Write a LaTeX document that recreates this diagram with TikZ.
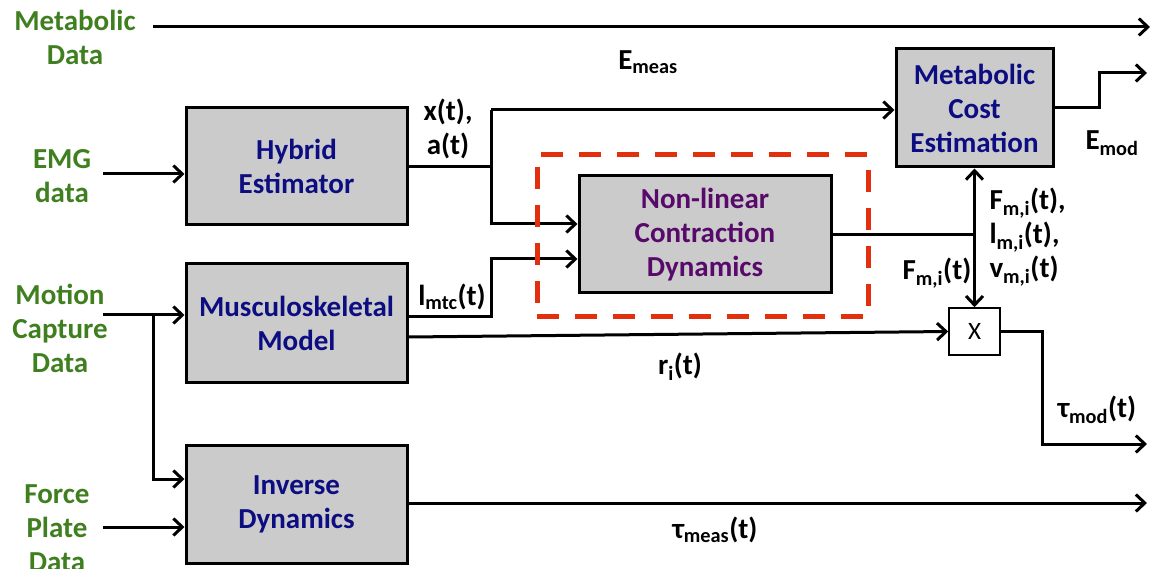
\documentclass[tikz,border=0pt]{standalone}
\usepackage{fontspec}
\setmainfont{Carlito}
\usetikzlibrary{arrows.meta,positioning}

\definecolor{lblgreen}{HTML}{3F7F1F}
\definecolor{boxblue}{HTML}{0D0D82}
\definecolor{boxpurple}{HTML}{580A6A}
\definecolor{boxgray}{HTML}{CBCBCB}
\definecolor{dashred}{HTML}{E2300F}

\begin{document}
\begin{tikzpicture}[x=1pt, y=-1pt,
  font=\fontsize{29}{34}\selectfont\bfseries,
  line width=3pt,
  >={Straight Barb[length=9pt,width=17pt]},
  block/.style={draw, fill=boxgray, text=boxblue, align=center, inner sep=0pt},
  src/.style={text=lblgreen, align=center},
  sig/.style={align=center, inner sep=0pt}]
  \useasboundingbox (0,0) rectangle (1157,569);

  % 方框
  \node[block, minimum width=221pt, minimum height=117pt] (hybrid) at (296.5,166.5) {Hybrid\\Estimator};
  \node[block, minimum width=221pt, minimum height=118pt] (musc) at (296.5,323) {Musculoskeletal\\Model};
  \node[block, minimum width=221pt, minimum height=118pt] (inv) at (296.5,504) {Inverse\\Dynamics};
  \node[block, text=boxpurple, minimum width=252pt, minimum height=117pt] (nonlin) at (705,234.5) {Non-linear\\Contraction\\Dynamics};
  \node[block, minimum width=157pt, minimum height=118pt] (cost) at (974.5,108) {Metabolic\\Cost\\Estimation};
  \node[draw, fill=white, line width=1.6pt, minimum width=51pt, minimum height=47pt,
        font=\fontsize{25}{30}\selectfont\mdseries] (mult) at (974.5,331.5) {X};

  % 输入标签
  \node[src] (metdata) at (75,37) {Metabolic\\Data};
  \node[src] (emgdata) at (62,176) {EMG\\data};
  \node[src] (mocap) at (60,328) {Motion\\Capture\\Data};
  \node[src] (force) at (57,528) {Force\\Plate\\Data};

  % 连接点
  \coordinate (metin) at (153,27);
  \coordinate (metout) at (1150,27);
  \coordinate (emgin) at (103,174);
  \coordinate (mocin) at (103,315);
  \coordinate (mocsplit) at (153,315);
  \coordinate (forcein) at (103,527);
  \coordinate (xsplit) at (491,167);
  \coordinate (lsplit) at (491,317);
  \coordinate (fjoin) at (cost.south |- nonlin.east);
  \coordinate (emodbend) at (1099,73);
  \coordinate (emodout) at (1147,73);
  \coordinate (tmodbend) at (1042,444);
  \coordinate (tmodout) at (1147,444);
  \coordinate (tmeasout) at (1147,503);

  % 连线
  \draw[->] (metin) -- (metout);
  \draw[->] (emgin) -- (emgin -| hybrid.west);
  \draw[->] (mocin) -- (mocin -| musc.west);
  \draw[->] (mocsplit) |- ([yshift=25pt]inv.west);
  \draw[->] (forcein) -- (forcein -| inv.west);
  \draw (hybrid.east |- xsplit) -- (xsplit);
  \draw[->] (xsplit |- 0,110) -- (cost.west |- 0,110);
  \draw[->] (xsplit |- 0,110) |- ([yshift=10.5pt]nonlin.west);
  \draw[->] ([yshift=6pt]musc.east) -- (lsplit) |- ([yshift=-24.5pt]nonlin.west);
  \draw[->] ([yshift=-14pt]musc.east) -- (mult.west);
  \draw (nonlin.east) -- (fjoin);
  \draw[->] (fjoin) -- (cost.south);
  \draw[->] (fjoin) -- (mult.north);
  \draw[->] (cost.east) -| (emodbend) -- (emodout);
  \draw[->] (mult.east) -| (tmodbend) -- (tmodout);
  \draw[->] (inv.east |- tmeasout) -- (tmeasout);

  % 信号标签
  \node[sig] (emeas) at (648,62) {E\textsubscript{meas}};
  \node[sig] (xa) at (448,129) {x(t),\\a(t)};
  \node[sig] (lmtc) at (452,297) {l\textsubscript{mtc}(t)};
  \node[sig] (ri) at (680,367) {r\textsubscript{i}(t)};
  \node[sig, align=left, anchor=west] (fvl) at (988,237) {F\textsubscript{m,i}(t),\\l\textsubscript{m,i}(t),\\v\textsubscript{m,i}(t)};
  \node[sig] (fmi) at (937,273) {F\textsubscript{m,i}(t)};
  \node[sig] (emod) at (1112,143) {E\textsubscript{mod}};
  \node[sig] (tmod) at (1097,410) {τ\textsubscript{mod}(t)};
  \node[sig] (tmeas) at (715,530) {τ\textsubscript{meas}(t)};

  % 红色虚线框
  \node[draw=dashred, line width=5pt, dash pattern=on 22pt off 16pt,
        minimum width=331pt, minimum height=162pt] (group) at (702.5,236) {};
\end{tikzpicture}
\end{document}
